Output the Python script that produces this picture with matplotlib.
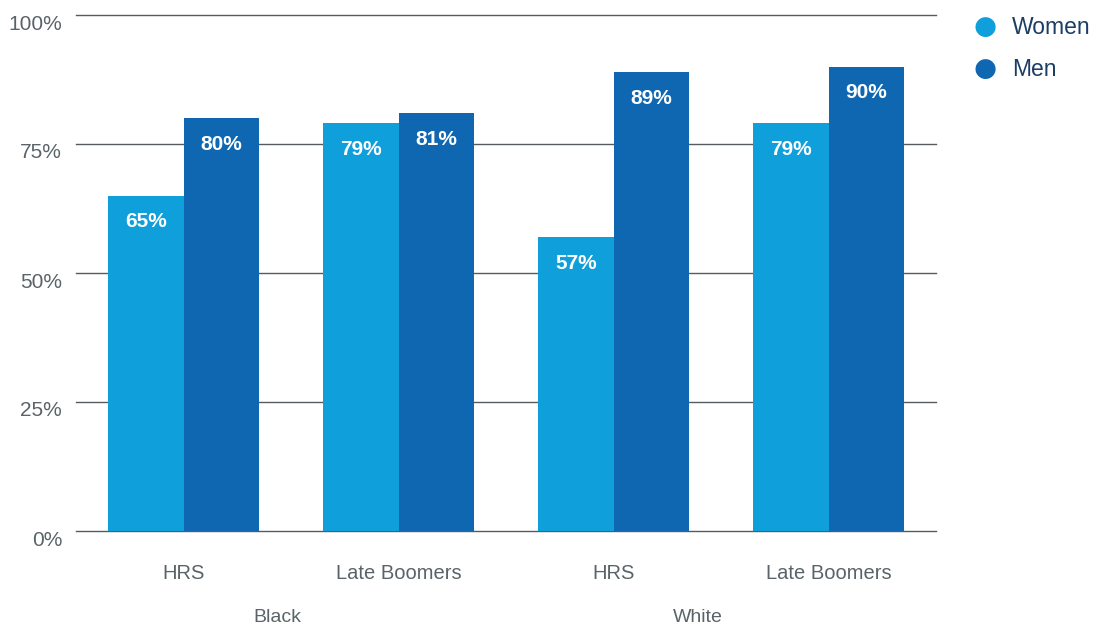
import matplotlib
matplotlib.use("Agg")
import matplotlib.pyplot as plt
import matplotlib.transforms as mtransforms
import numpy as np

plt.rcParams["font.family"] = ["Liberation Sans", "DejaVu Sans"]

# Colors
WOMEN_C = "#0f9fdb"
MEN_C = "#0f67b2"
GRID = "#555b5e"
TICK = "#5a6468"
LEGEND_TXT = "#1c3e66"

# Data
categories = ["HRS", "Late Boomers", "HRS", "Late Boomers"]
groups = ["Black", "White"]
women = [65, 79, 57, 79]
men = [80, 81, 89, 90]
yticks = [0, 25, 50, 75, 100]

fig = plt.figure(figsize=(10.93, 6.27), dpi=100)
ax = fig.add_axes([76 / 1093, 1 - 531 / 627, 860 / 1093, 516 / 627])

x = np.arange(len(categories))
w = 0.35
b1 = ax.bar(x - w / 2, women, w, color=WOMEN_C, zorder=3)
b2 = ax.bar(x + w / 2, men, w, color=MEN_C, zorder=3)

for bars, vals in ((b1, women), (b2, men)):
    for bar, v in zip(bars, vals):
        ax.annotate(f"{v}%", (bar.get_x() + bar.get_width() / 2, v),
                    xytext=(0, -19), textcoords="offset points",
                    ha="center", va="center", color="white",
                    fontsize=15, fontweight="bold", zorder=4)

ax.set_xlim(-0.5, 3.5)
ax.set_ylim(0, 100)
ax.set_yticks(yticks)
ax.set_yticklabels([f"{t}%" for t in yticks], color=TICK, fontsize=15)
for t in yticks:
    ax.axhline(t, color=GRID, linewidth=1, zorder=1, clip_on=False)
for s in ax.spines.values():
    s.set_visible(False)
ax.tick_params(axis="both", length=0)
ax.tick_params(axis="y", pad=10)
shift = mtransforms.ScaledTranslation(0, -7 / 100, fig.dpi_scale_trans)
for lbl in ax.get_yticklabels():
    lbl.set_transform(lbl.get_transform() + shift)
ax.set_xticks(x)
ax.set_xticklabels(categories, color=TICK, fontsize=14.5)
ax.tick_params(axis="x", pad=24)

# group labels
for gx, g in zip([0.435, 2.39], groups):
    ax.text(gx, -16.8, g, ha="center", va="center", color=TICK, fontsize=14,
            transform=ax.transData, clip_on=False)

# legend
for yy, lab, c in ((27, "Women", WOMEN_C), (69, "Men", MEN_C)):
    fig.text(985 / 1093, 1 - yy / 627, "\u25cf", color=c, fontsize=19,
             ha="center", va="center", family=["DejaVu Sans"])
    fig.text(1012 / 1093, 1 - yy / 627, lab, color=LEGEND_TXT, fontsize=16.5,
             ha="left", va="center")

fig.savefig("out.png", dpi=100)
